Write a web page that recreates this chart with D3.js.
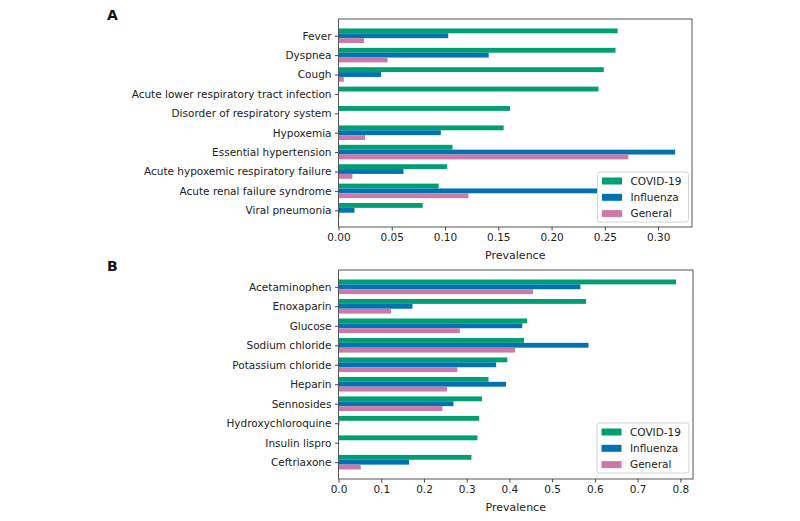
<!DOCTYPE html>
<html>
<head>
<meta charset="utf-8">
<script src="https://cdn.jsdelivr.net/npm/d3@7"></script>
<style>
  body { margin: 0; background: #fff; }
  svg text { font-family: "DejaVu Sans", sans-serif; }
</style>
</head>
<body>
<svg id="chart" width="800" height="521"></svg>
<script>
// ---------- DATA ----------
const seriesNames = ["COVID-19", "Influenza", "General"];
const seriesColors = ["#009E73", "#0072B2", "#CC79A7"];

const conditions = ["Fever", "Dyspnea", "Cough", "Acute lower respiratory tract infection",
  "Disorder of respiratory system", "Hypoxemia", "Essential hypertension",
  "Acute hypoxemic respiratory failure", "Acute renal failure syndrome", "Viral pneumonia"];
const condCovid     = [0.262, 0.260, 0.249, 0.244, 0.161, 0.155, 0.107, 0.102, 0.094, 0.079];
const condInfluenza = [0.103, 0.141, 0.040, 0.000, 0.000, 0.096, 0.316, 0.061, 0.243, 0.015];
const condGeneral   = [0.024, 0.046, 0.005, 0.000, 0.000, 0.025, 0.272, 0.013, 0.122, 0.001];
const condTicks = [0, 0.05, 0.10, 0.15, 0.20, 0.25, 0.30];

const drugs = ["Acetaminophen", "Enoxaparin", "Glucose", "Sodium chloride", "Potassium chloride",
  "Heparin", "Sennosides", "Hydroxychloroquine", "Insulin lispro", "Ceftriaxone"];
const drugCovid     = [0.790, 0.579, 0.441, 0.434, 0.395, 0.351, 0.336, 0.329, 0.325, 0.311];
const drugInfluenza = [0.566, 0.173, 0.430, 0.585, 0.369, 0.392, 0.269, 0.002, 0.000, 0.165];
const drugGeneral   = [0.455, 0.123, 0.284, 0.413, 0.278, 0.254, 0.243, 0.001, 0.000, 0.052];
const drugTicks = [0, 0.1, 0.2, 0.3, 0.4, 0.5, 0.6, 0.7, 0.8];

// ---------- DRAW ----------
const svg = d3.select("#chart");
const fontSize = 10.5;

function panel(opts) {
  const { letter, cats, series, ticks, fmt, box, legendBox } = opts;
  const g = svg.append("g");
  const maxV = d3.max(series.flat());
  const x = d3.scaleLinear().domain([0, maxV * 1.05]).range([box.x0, box.x1]);
  const n = cats.length;
  const barH = 0.25;
  const marg = 0.375 + 0.05 * ((n - 1) + 2 * 0.375);
  const y = d3.scaleLinear().domain([-marg, n - 1 + marg]).range([box.y0, box.y1]);

  // bars
  series.forEach((vals, j) => {
    g.append("g").selectAll("rect").data(vals).join("rect")
      .attr("x", x(0))
      .attr("y", (d, i) => y(i + (j - 1) * barH - barH / 2))
      .attr("width", d => Math.max(0, x(d) - x(0)))
      .attr("height", y(barH) - y(0))
      .attr("fill", seriesColors[j]);
  });

  // frame
  g.append("rect")
    .attr("x", box.x0).attr("y", box.y0)
    .attr("width", box.x1 - box.x0).attr("height", box.y1 - box.y0)
    .attr("fill", "none").attr("stroke", "#555").attr("stroke-width", 1);

  // x axis
  const xa = g.append("g").attr("transform", `translate(0,${box.y1})`)
    .call(d3.axisBottom(x).tickValues(ticks).tickFormat(fmt).tickSize(3.5).tickPadding(3.5));
  xa.select(".domain").remove();
  xa.selectAll("line").attr("stroke", "#444");
  xa.selectAll("text").attr("font-size", fontSize).attr("fill", "#222")
    .attr("font-family", "DejaVu Sans, sans-serif");

  // y axis
  const ya = g.append("g").attr("transform", `translate(${box.x0},0)`)
    .call(d3.axisLeft(d3.scaleLinear().domain(y.domain()).range(y.range()))
      .tickValues(d3.range(n)).tickFormat(i => cats[i]).tickSize(3.5).tickPadding(3.5));
  ya.select(".domain").remove();
  ya.selectAll("line").attr("stroke", "#444");
  ya.selectAll("text").attr("font-size", fontSize).attr("fill", "#222")
    .attr("font-family", "DejaVu Sans, sans-serif");

  // x label
  g.append("text").attr("x", (box.x0 + box.x1) / 2).attr("y", box.y1 + 32)
    .attr("text-anchor", "middle").attr("font-size", fontSize + 0.5).attr("fill", "#222")
    .text("Prevalence");

  // letter
  g.append("text").attr("x", 107).attr("y", box.y0 + 1)
    .attr("font-size", 14).attr("font-weight", "bold").attr("fill", "#111").text(letter);

  // legend
  const lg = g.append("g");
  lg.append("rect").attr("x", legendBox.x).attr("y", legendBox.y)
    .attr("width", legendBox.w).attr("height", legendBox.h).attr("rx", 2.5)
    .attr("fill", "#fff").attr("fill-opacity", 0.85).attr("stroke", "#d3d3d3");
  seriesNames.forEach((name, j) => {
    const cy = legendBox.y + 9 + j * 16.3;
    lg.append("rect").attr("x", legendBox.x + 4.5).attr("y", cy - 3.5)
      .attr("width", 20).attr("height", 7).attr("fill", seriesColors[j]);
    lg.append("text").attr("x", legendBox.x + 33).attr("y", cy).attr("dy", "0.36em")
      .attr("font-size", fontSize).attr("fill", "#222").text(name);
  });
}

panel({
  letter: "A", cats: conditions,
  series: [condCovid, condInfluenza, condGeneral],
  ticks: condTicks, fmt: d3.format(".2f"),
  box: { x0: 338.5, x1: 692, y0: 19, y1: 227 },
  legendBox: { x: 597.5, y: 172, w: 91, h: 50 }
});

panel({
  letter: "B", cats: drugs,
  series: [drugCovid, drugInfluenza, drugGeneral],
  ticks: drugTicks, fmt: d3.format(".1f"),
  box: { x0: 338.5, x1: 693, y0: 270, y1: 479 },
  legendBox: { x: 597, y: 423, w: 92, h: 50 }
});
</script>
</body>
</html>
